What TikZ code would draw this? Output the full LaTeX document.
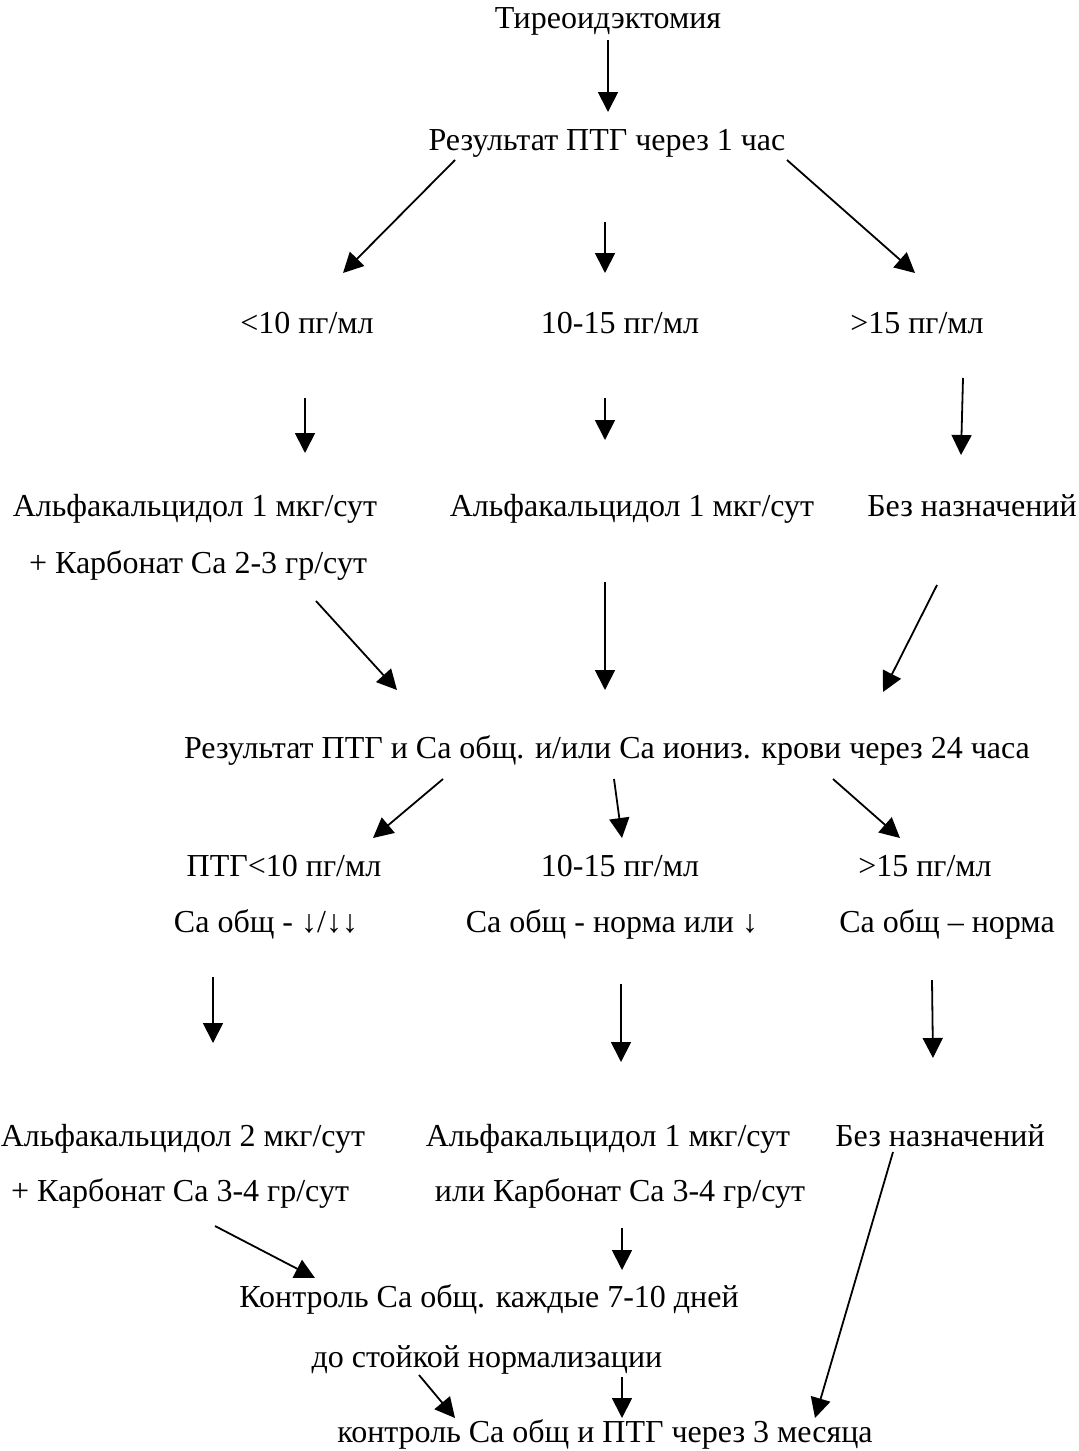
\documentclass[tikz,border=0pt]{standalone}
\usepackage{fontspec}
\setmainfont{Liberation Serif}
\usepackage{tikz}
\usetikzlibrary{arrows.meta}

\begin{document}
\begin{tikzpicture}[
x=0.5pt, y=-0.5pt,
txt/.style={anchor=base, inner sep=0pt, font=\fontsize{16}{19}\selectfont},
arr/.style={-{Triangle[length=10pt,width=10pt]}, line width=0.9pt}
]
\useasboundingbox (0,0) rectangle (1079,1451);

\node[txt](thyr) at (608,28){Тиреоидэктомия};
\node[txt](res_1h) at (607,150){Результат ПТГ через 1 час};
\node[txt](lt10) at (307,333){<10 пг/мл};
\node[txt](mid) at (620,333){10-15 пг/мл};
\node[txt](gt15) at (917,333){>15 пг/мл};
\node[txt](lt10_alfa) at (195,516){Альфакальцидол 1 мкг/сут};
\node[txt](lt10_carb) at (198,573){+ Карбонат Са 2-3 гр/сут};
\node[txt](mid_alfa) at (632,516){Альфакальцидол 1 мкг/сут};
\node[txt](gt15_none) at (972,516){Без назначений};
\node[txt](res_24h) at (607,758){Результат ПТГ и Са общ. и/или Са иониз. крови через 24 часа};
\node[txt](lt10_2) at (284,876){ПТГ<10 пг/мл};
\node[txt](lt10_2ca) at (266,932){Са общ - ↓/↓↓};
\node[txt](mid_2) at (620,876){10-15 пг/мл};
\node[txt](mid_2ca) at (612,932){Са общ - норма или ↓};
\node[txt](gt15_2) at (925,876){>15 пг/мл};
\node[txt](gt15_2ca) at (947,932){Са общ – норма};
\node[txt](lt10_3alfa) at (183,1146){Альфакальцидол 2 мкг/сут};
\node[txt](lt10_3carb) at (180,1201){+ Карбонат Са 3-4 гр/сут};
\node[txt](mid_3alfa) at (608,1146){Альфакальцидол 1 мкг/сут};
\node[txt](mid_3carb) at (620,1201){или Карбонат Са 3-4 гр/сут};
\node[txt](gt15_3none) at (940,1146){Без назначений};
\node[txt](ctrl) at (489,1307){Контроль Са общ. каждые 7-10 дней};
\node[txt](ctrl_norm) at (487,1367){до стойкой нормализации};
\node[txt](ctrl_3m) at (605,1442){контроль Са общ и ПТГ через 3 месяца};

\draw[arr] ([shift={(0,12)}]thyr.base) -- ([shift={(1,-38)}]res_1h.base);
\draw[arr] ([shift={(-152,10)}]res_1h.base) -- ([shift={(36,-60)}]lt10.base);
\draw[arr] ([shift={(-2,72)}]res_1h.base) -- ([shift={(-15,-60)}]mid.base);
\draw[arr] ([shift={(180,10)}]res_1h.base) -- ([shift={(-2,-60)}]gt15.base);

\draw[arr] ([shift={(-2,65)}]lt10.base) -- ([shift={(110,-63)}]lt10_alfa.base);
\draw[arr] ([shift={(-15,65)}]mid.base) -- ([shift={(-27,-76)}]mid_alfa.base);
\draw[arr] ([shift={(46,45)}]gt15.base) -- ([shift={(-11,-61)}]gt15_none.base);

\draw[arr] ([shift={(118,28)}]lt10_carb.base) -- ([shift={(-210,-68)}]res_24h.base);
\draw[arr] ([shift={(-27,66)}]mid_alfa.base) -- ([shift={(-2,-68)}]res_24h.base);
\draw[arr] ([shift={(-35,69)}]gt15_none.base) -- ([shift={(276,-66)}]res_24h.base);

\draw[arr] ([shift={(-164,21)}]res_24h.base) -- ([shift={(89,-38)}]lt10_2.base);
\draw[arr] ([shift={(7,21)}]res_24h.base) -- ([shift={(2,-38)}]mid_2.base);
\draw[arr] ([shift={(226,21)}]res_24h.base) -- ([shift={(-25,-38)}]gt15_2.base);

\draw[arr] ([shift={(-53,45)}]lt10_2ca.base) -- ([shift={(30,-103)}]lt10_3alfa.base);
\draw[arr] ([shift={(9,52)}]mid_2ca.base) -- ([shift={(13,-84)}]mid_3alfa.base);
\draw[arr] ([shift={(-15,48)}]gt15_2ca.base) -- ([shift={(-7,-88)}]gt15_3none.base);

\draw[arr] ([shift={(35,25)}]lt10_3carb.base) -- ([shift={(-174,-29)}]ctrl.base);
\draw[arr] ([shift={(2,27)}]mid_3carb.base) -- ([shift={(133,-37)}]ctrl.base);
\draw[arr] ([shift={(-47,6)}]gt15_3none.base) -- ([shift={(210,-24)}]ctrl_3m.base);

\draw[arr] ([shift={(-68,8)}]ctrl_norm.base) -- ([shift={(-150,-24)}]ctrl_3m.base);
\draw[arr] ([shift={(135,10)}]ctrl_norm.base) -- ([shift={(17,-24)}]ctrl_3m.base);

\end{tikzpicture}
\end{document}
